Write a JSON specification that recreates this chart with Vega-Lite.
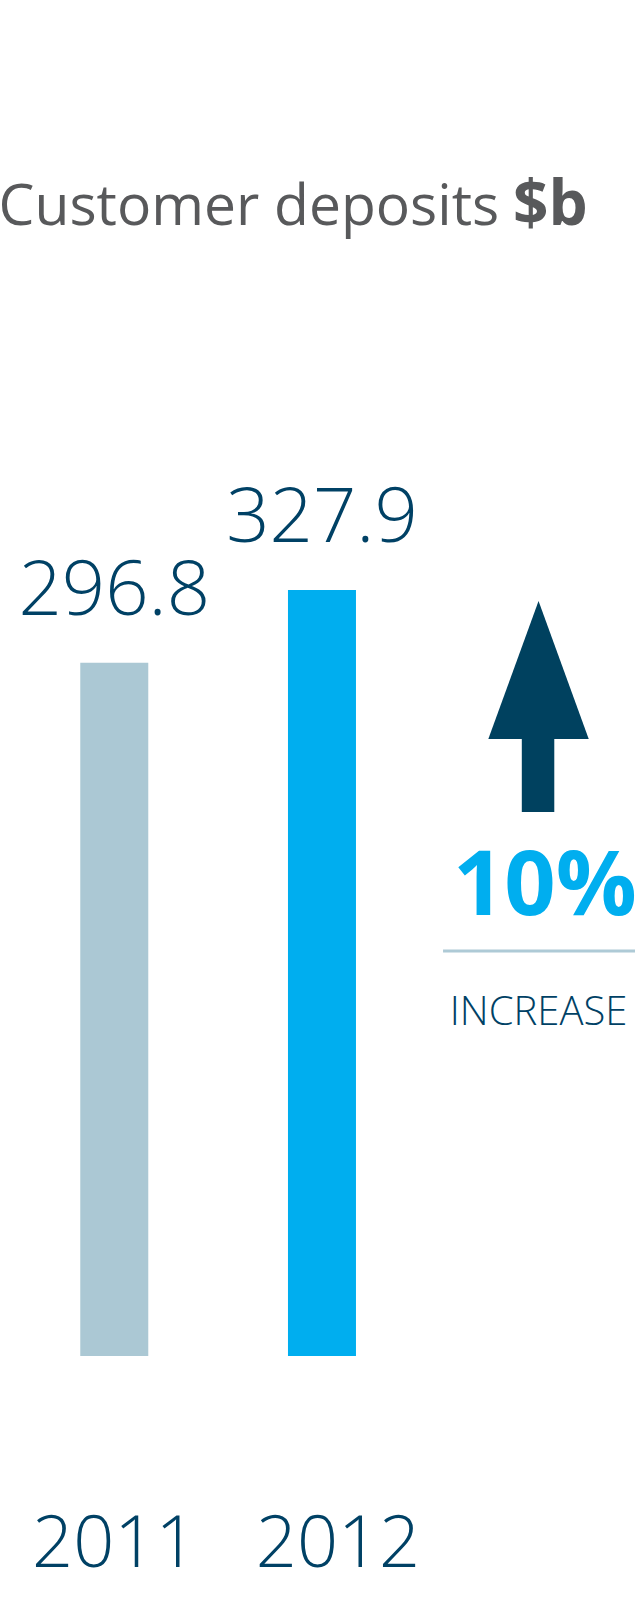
{
  "$schema": "https://vega.github.io/schema/vega-lite/v6.json",
  "width": 640,
  "height": 1610,
  "autosize": "none",
  "padding": 0,
  "background": "white",
  "config": {"view": {"stroke": null}, "font": "Open Sans"},
  "datasets": {
    "deposits": [
      {"year": 2011, "value": 296.8, "label": "296.8"},
      {"year": 2012, "value": 327.9, "label": "327.9"}
    ],
    "arrowhead": [
      {"x": 2012.8009, "y": 264.12},
      {"x": 2013.0427, "y": 323.19},
      {"x": 2013.2844, "y": 264.12}
    ]
  },
  "layer": [
    {
      "data": {"name": "deposits"},
      "mark": {"type": "bar", "width": 68},
      "encoding": {
        "x": {"field": "year", "type": "quantitative", "axis": null,
              "scale": {"domain": [2010.4739, 2013.5071], "nice": false, "zero": false}},
        "y": {"field": "value", "type": "quantitative", "axis": null,
              "scale": {"domain": [-108.73, 580.46], "nice": false, "zero": false}},
        "color": {"field": "year", "type": "nominal", "legend": null,
                  "scale": {"domain": [2011, 2012], "range": ["#abc8d4", "#00aeef"]}}
      }
    },
    {
      "data": {"name": "deposits"},
      "mark": {"type": "text", "baseline": "alphabetic", "dy": -48, "fontSize": 76, "fontWeight": 300, "color": "#004165"},
      "encoding": {
        "x": {"field": "year", "type": "quantitative"},
        "y": {"field": "value", "type": "quantitative"},
        "text": {"field": "label"}
      }
    },
    {
      "data": {"name": "deposits"},
      "transform": [{"filter": "datum.year == 2011"}],
      "mark": {"type": "text", "baseline": "alphabetic", "fontSize": 72, "fontWeight": 300, "color": "#004165"},
      "encoding": {
        "x": {"field": "year", "type": "quantitative"},
        "y": {"datum": -90.32},
        "text": {"field": "year"}
      }
    },
    {
      "data": {"name": "deposits"},
      "transform": [{"filter": "datum.year == 2012"}],
      "mark": {"type": "text", "baseline": "alphabetic", "dx": 16, "fontSize": 72, "fontWeight": 300, "color": "#004165"},
      "encoding": {
        "x": {"field": "year", "type": "quantitative"},
        "y": {"datum": -90.32},
        "text": {"field": "year"}
      }
    },
    {
      "mark": {"type": "rule", "strokeWidth": 4, "color": "#aecad6"},
      "encoding": {"y": {"datum": 450.76}}
    },
    {
      "mark": {"type": "rule", "strokeWidth": 4, "color": "#0b3954"},
      "encoding": {"y": {"datum": -32.96}}
    },
    {
      "data": {"values": [{"t": "Customer deposits", "x": 2012.8531}]},
      "mark": {"type": "text", "align": "right", "baseline": "alphabetic", "fontSize": 57, "color": "#58595b"},
      "encoding": {
        "x": {"field": "x", "type": "quantitative"},
        "y": {"datum": 484.15},
        "text": {"field": "t"}
      }
    },
    {
      "data": {"values": [{"t": "$b", "x": 2012.9194}]},
      "mark": {"type": "text", "align": "left", "baseline": "alphabetic", "fontSize": 62, "fontWeight": "bold", "color": "#58595b"},
      "encoding": {
        "x": {"field": "x", "type": "quantitative"},
        "y": {"datum": 484.15},
        "text": {"field": "t"}
      }
    },
    {
      "data": {"name": "arrowhead"},
      "mark": {"type": "area", "color": "#00415f", "interpolate": "linear"},
      "encoding": {
        "x": {"field": "x", "type": "quantitative"},
        "y": {"field": "y", "type": "quantitative"},
        "y2": {"datum": 264.12}
      }
    },
    {
      "data": {"values": [{"x": 2012.9621, "x2": 2013.1185, "y": 264.12, "y2": 232.87}]},
      "mark": {"type": "rect", "color": "#00415f"},
      "encoding": {
        "x": {"field": "x", "type": "quantitative"},
        "x2": {"field": "x2"},
        "y": {"field": "y", "type": "quantitative"},
        "y2": {"field": "y2"}
      }
    },
    {
      "data": {"values": [{"t": "10%", "x": 2012.6303}]},
      "mark": {"type": "text", "align": "left", "baseline": "alphabetic", "fontSize": 90, "fontWeight": "bold", "color": "#00aeef"},
      "encoding": {
        "x": {"field": "x", "type": "quantitative"},
        "y": {"datum": 188.78},
        "text": {"field": "t"}
      }
    },
    {
      "data": {"values": [{"x": 2012.5829, "x2": 2013.5071}]},
      "mark": {"type": "rule", "strokeWidth": 3, "color": "#aecad6"},
      "encoding": {
        "x": {"field": "x", "type": "quantitative"},
        "x2": {"field": "x2"},
        "y": {"datum": 173.37}
      }
    },
    {
      "data": {"values": [{"t": "INCREASE", "x": 2013.0427}]},
      "mark": {"type": "text", "align": "center", "baseline": "alphabetic", "fontSize": 40, "fontWeight": 300, "color": "#004165"},
      "encoding": {
        "x": {"field": "x", "type": "quantitative"},
        "y": {"datum": 141.69},
        "text": {"field": "t"}
      }
    }
  ]
}
